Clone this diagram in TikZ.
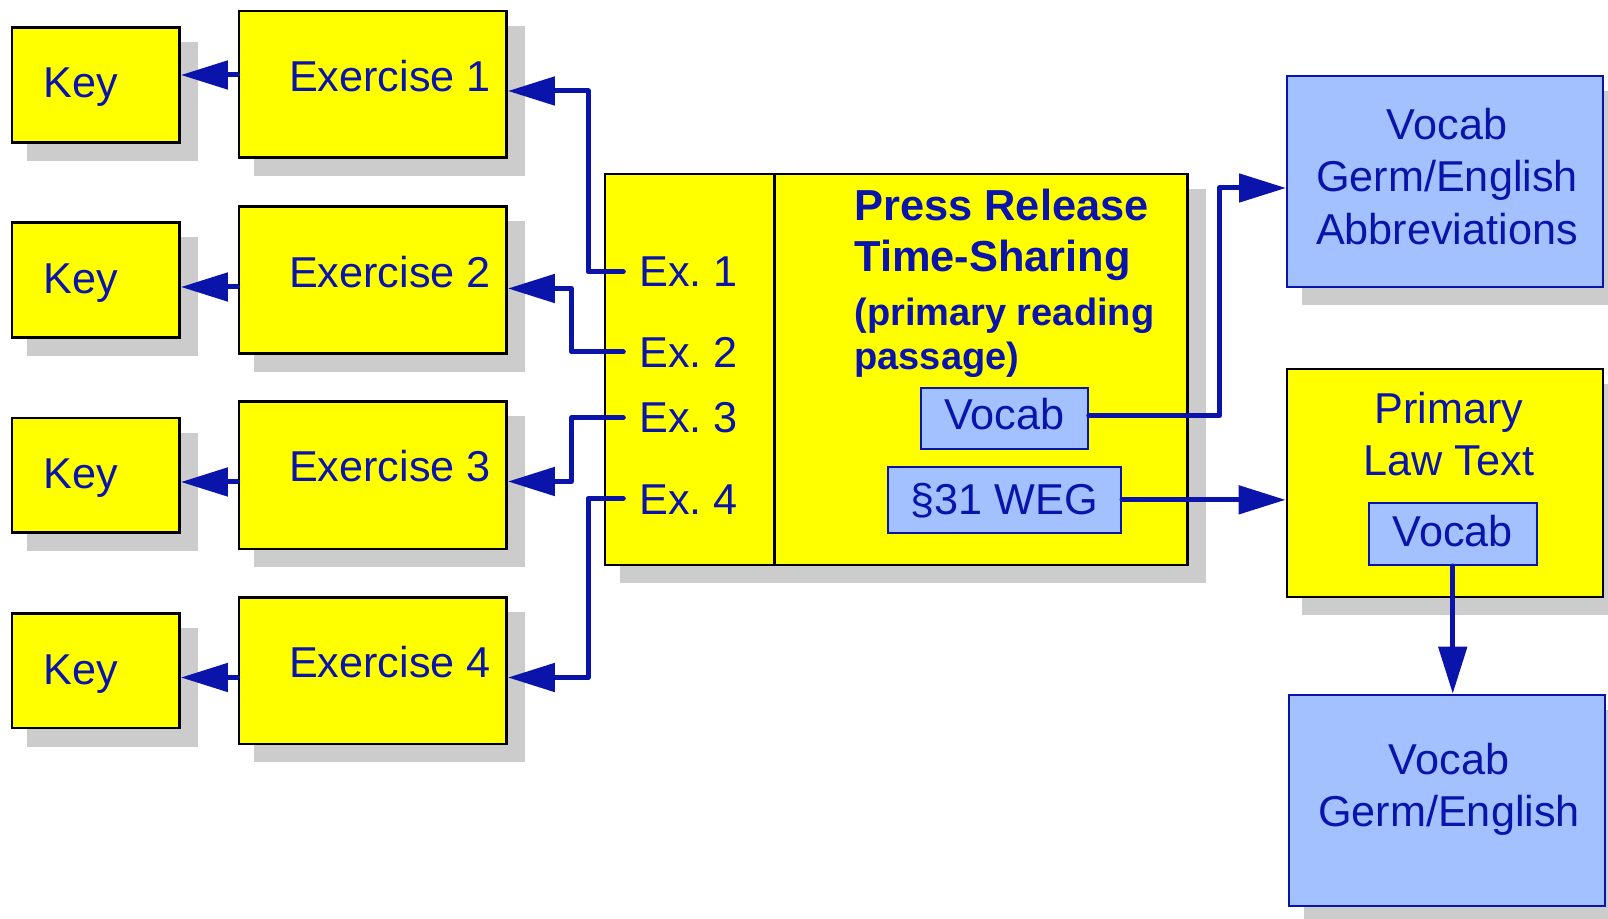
\documentclass[tikz,border=0pt]{standalone}
\usepackage{fontspec}
\setmainfont{Liberation Sans}
\usetikzlibrary{arrows.meta,fit,backgrounds}
\definecolor{ink}{HTML}{0A14AA}
\definecolor{yel}{HTML}{FFFF00}
\definecolor{lblue}{HTML}{A3C1FF}
\definecolor{shadowgray}{HTML}{CCCCCC}
\newcommand\shadowof[1]{\fill[shadowgray] ([shift={(16,16)}]#1.north west) rectangle ([shift={(17,17)}]#1.south east);}
\frenchspacing
\begin{document}
\begin{tikzpicture}[x=0.5pt,y=-0.5pt,
  ybox/.style={draw=black, line width=1.4pt, fill=yel, inner sep=0pt},
  bbox/.style={draw=ink, line width=1pt, fill=lblue, inner sep=0pt},
  txt/.style={text=ink, font=\fontsize{21.6}{26}\selectfont, inner sep=0pt, anchor=base west},
  ctxt/.style={txt, anchor=base},
  btxt/.style={txt, font=\fontsize{21.7}{26}\selectfont\bfseries},
  stxt/.style={txt, font=\fontsize{19}{23}\selectfont\bfseries},
  conn/.style={draw=ink, line width=2.5pt, line join=round, line cap=round},
  arr/.style={conn, -{Triangle[length=23.5pt,width=14pt]}},
]
\useasboundingbox (0,0) rectangle (1608,919);

% Key boxes
\node[ybox, fit={(12,27.7) (179.5,142.4)}] (key1) {};
\node[ybox, fit={(12,222.7) (179.5,337.4)}] (key2) {};
\node[ybox, fit={(12,418) (179.5,532.7)}] (key3) {};
\node[ybox, fit={(12,613.3) (179.5,728.1)}] (key4) {};
% Exercise boxes
\node[ybox, fit={(239,11) (506.5,157.7)}] (ex1) {};
\node[ybox, fit={(239,206.7) (506.5,353.3)}] (ex2) {};
\node[ybox, fit={(239,401.7) (506.5,549)}] (ex3) {};
\node[ybox, fit={(239,597.3) (506.5,744)}] (ex4) {};
% central box
\node[ybox, fit={(605,174) (1187.5,565)}] (press) {};
\draw[line width=1.2pt] (774.3,174) -- (774.3,565);
\node[bbox, fit={(921,388) (1087.8,449.3)}] (pv) {};
\node[bbox, fit={(888,467) (1121,532.7)}] (weg) {};
% right boxes
\node[bbox, fit={(1287,76) (1603,287)}] (abbr) {};
\node[ybox, fit={(1287,369) (1603,597)}] (law) {};
\node[bbox, fit={(1369,503.5) (1536.5,565)}] (lv) {};
\node[bbox, fit={(1289,694.7) (1605,906)}] (vgb) {};

\begin{scope}[on background layer]
\shadowof{key1}\shadowof{key2}\shadowof{key3}\shadowof{key4}
\shadowof{ex1}\shadowof{ex2}\shadowof{ex3}\shadowof{ex4}
\shadowof{press}\shadowof{abbr}\shadowof{law}\shadowof{vgb}
\end{scope}

% texts
\node[txt] (kt1) at (43.5,98) {Key};
\node[txt] (kt2) at (43.5,293.5) {Key};
\node[txt] (kt3) at (43.5,488.3) {Key};
\node[txt] (kt4) at (43.5,684) {Key};
\node[txt] (et1) at (288.6,92) {Exercise 1};
\node[txt] (et2) at (288.6,287.5) {Exercise 2};
\node[txt] (et3) at (288.6,482) {Exercise 3};
\node[txt] (et4) at (288.6,677.5) {Exercise 4};
\node[txt] (xl1) at (639,286.7) {Ex. 1};
\node[txt] (xl2) at (639,367.7) {Ex. 2};
\node[txt] (xl3) at (639,432.7) {Ex. 3};
\node[txt] (xl4) at (639,514.3) {Ex. 4};
\node[btxt] (pt1) at (854,221) {Press Release};
\node[btxt] (pt2) at (854,271.7) {Time-Sharing};
\node[stxt] (pt3) at (854,325.7) {(primary reading};
\node[stxt] (pt4) at (854,370) {passage)};
\node[ctxt] (pvt) at (1004.4,430) {Vocab};
\node[ctxt] (wegt) at (1004.5,514.3) {§31 WEG};
\node[ctxt] (at1) at (1447,139.3) {Vocab};
\node[ctxt] (at2) at (1447,192) {Germ/English};
\node[ctxt] (at3) at (1447,244.6) {Abbreviations};
\node[ctxt] (lt1) at (1449,424) {Primary};
\node[ctxt] (lt2) at (1449,476) {Law Text};
\node[ctxt] (lvt) at (1452.7,546.4) {Vocab};
\node[ctxt] (gt1) at (1449,775) {Vocab};
\node[ctxt] (gt2) at (1449,826.7) {Germ/English};

% connector levels
\coordinate (y1) at (0,75);
\coordinate (y2) at (0,287);
\coordinate (y3) at (0,482);
\coordinate (y4) at (0,677.5);
\draw[arr] (ex1.west |- y1) -- (key1.east |- y1);
\draw[arr] (ex2.west |- y2) -- (key2.east |- y2);
\draw[arr] (ex3.west |- y3) -- (key3.east |- y3);
\draw[arr] (ex4.west |- y4) -- (key4.east |- y4);

\coordinate (c1) at (623.3,271.8);
\coordinate (c2) at (623.3,352);
\coordinate (c3) at (623.3,417.7);
\coordinate (c4) at (623.3,498.5);
\coordinate (b1) at (588,91);
\coordinate (b2) at (571.4,288.5);
\coordinate (b3) at (571.4,481.5);
\coordinate (b4) at (588,677.5);
\draw[arr] (c1) -| (b1) -- (ex1.east |- b1);
\draw[arr] (c2) -| (b2) -- (ex2.east |- b2);
\draw[arr] (c3) -| (b3) -- (ex3.east |- b3);
\draw[arr] (c4) -| (b4) -- (ex4.east |- b4);

\coordinate (vy) at (0,416);
\coordinate (va) at (1219.3,188);
\draw[arr] (pv.east |- vy) -| (va) -- (abbr.west |- va);
\draw[arr] (weg.east) -- (law.west |- weg.east);
\draw[arr] (lv.south) -- (vgb.north -| lv.south);
\end{tikzpicture}
\end{document}
